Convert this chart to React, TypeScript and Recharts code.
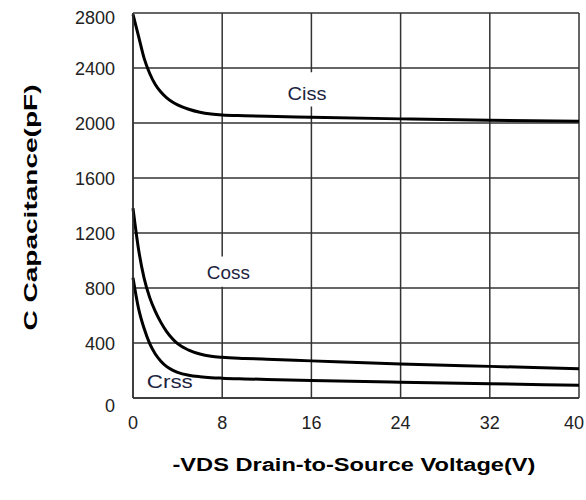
import React from 'react';
import { ComposedChart, Line, XAxis, YAxis, CartesianGrid, ReferenceArea, Label } from 'recharts';

// -VDS (V) sample points
const vds = [0, 0.5, 1, 1.5, 2, 2.5, 3, 3.5, 4, 5, 6, 7, 8, 10, 12, 16, 24, 32, 40];
const ciss = [2790, 2630, 2470, 2360, 2280, 2225, 2185, 2155, 2132, 2100, 2078, 2065, 2058, 2053, 2049, 2042, 2030, 2020, 2012];
const coss = [1380, 1080, 870, 730, 630, 550, 485, 435, 395, 348, 320, 304, 296, 288, 282, 270, 247, 230, 213];
const crss = [875, 650, 505, 395, 320, 268, 230, 205, 187, 166, 155, 148, 144, 139, 135, 127, 115, 104, 92];

const xTicks = [0, 8, 16, 24, 32, 40];
const yTicks = [0, 400, 800, 1200, 1600, 2000, 2400, 2800];

const data = vds.map((v, i) => ({ vds: v, ciss: ciss[i], coss: coss[i], crss: crss[i] }));

const FONT = '"Liberation Sans", Arial, sans-serif';
const INK = '#222';
const GRID = '#333';

const YTick = ({ x, y, payload }: any) => {
  const shift = payload.value === 0 ? 8 : payload.value === 2800 ? 5 : 1;
  return (
    <text x={x} y={y + shift} dy="0.355em" textAnchor="end" fontSize={18} fontFamily={FONT} fill={INK}>
      {payload.value}
    </text>
  );
};

const XTick = ({ x, y, payload }: any) => {
  const shift = payload.value === 40 ? -4 : 0;
  return (
    <text x={x + shift} y={y} dy="0.71em" textAnchor="middle" fontSize={18} fontFamily={FONT} fill={INK}>
      {payload.value}
    </text>
  );
};

const XTitle = ({ viewBox }: any) => {
  const cx = viewBox.x + viewBox.width / 2;
  return (
    <text x={cx - 2} y={viewBox.y + 73} textAnchor="middle" fontSize={18} fontWeight="bold" fontFamily={FONT} fill="#000"
      textLength={363} lengthAdjust="spacingAndGlyphs">
      -VDS Drain-to-Source Voltage(V)
    </text>
  );
};

const YTitle = ({ viewBox }: any) => {
  const cx = 30;
  const cy = viewBox.y + viewBox.height / 2 + 2;
  return (
    <text x={cx} y={cy} dy="0.36em" transform={`rotate(-90, ${cx}, ${cy})`} textAnchor="middle" fontSize={19}
      fontWeight="bold" fontFamily={FONT} fill="#000" textLength={246} lengthAdjust="spacingAndGlyphs">
      C Capacitance(pF)
    </text>
  );
};

const curveLabel = (text: string, width: number, dx: number, dy: number) => ({ viewBox }: any) => (
  <text x={viewBox.x + viewBox.width / 2 + dx} y={viewBox.y + viewBox.height / 2 + dy} dy="0.36em" textAnchor="middle"
    fontSize={18} fontFamily={FONT} fill="#1c2340" textLength={width} lengthAdjust="spacingAndGlyphs">
    {text}
  </text>
);

export default function App() {
  return (
    <div style={{ position: 'absolute', left: 0, top: 0, background: '#fff' }}>
      <ComposedChart width={586} height={500} data={data} margin={{ top: 13, right: 7, left: 0, bottom: 0 }}>
        <CartesianGrid stroke={GRID} strokeWidth={1.5} />
        <XAxis dataKey="vds" type="number" domain={[0, 40]} ticks={xTicks} height={102} tickLine={false}
          axisLine={{ stroke: GRID, strokeWidth: 1.5 }} tickSize={0} tickMargin={18} tick={<XTick />}>
          <Label content={<XTitle />} />
        </XAxis>
        <YAxis type="number" domain={[0, 2800]} ticks={yTicks} width={133} tickLine={false}
          axisLine={{ stroke: GRID, strokeWidth: 1.5 }} tickSize={0} tickMargin={18} tick={<YTick />}>
          <Label content={<YTitle />} />
        </YAxis>
        <ReferenceArea x1={13.6} x2={17.6} y1={2120} y2={2370} fill="#fff" fillOpacity={1} stroke="none"
          label={curveLabel('Ciss', 39, 0, 4)} />
        <ReferenceArea x1={6.3} x2={10.8} y1={810} y2={1030} fill="#fff" fillOpacity={1} stroke="none"
          label={curveLabel('Coss', 43, 0, 1.5)} />
        <ReferenceArea x1={1.2} x2={5.4} y1={60} y2={180} fill="none" fillOpacity={0} stroke="none"
          label={curveLabel('Crss', 46, 0, 0)} />
        <Line type="monotone" dataKey="ciss" stroke="#000" strokeWidth={3} dot={false} isAnimationActive={false} />
        <Line type="monotone" dataKey="coss" stroke="#000" strokeWidth={3} dot={false} isAnimationActive={false} />
        <Line type="monotone" dataKey="crss" stroke="#000" strokeWidth={3} dot={false} isAnimationActive={false} />
      </ComposedChart>
    </div>
  );
}
